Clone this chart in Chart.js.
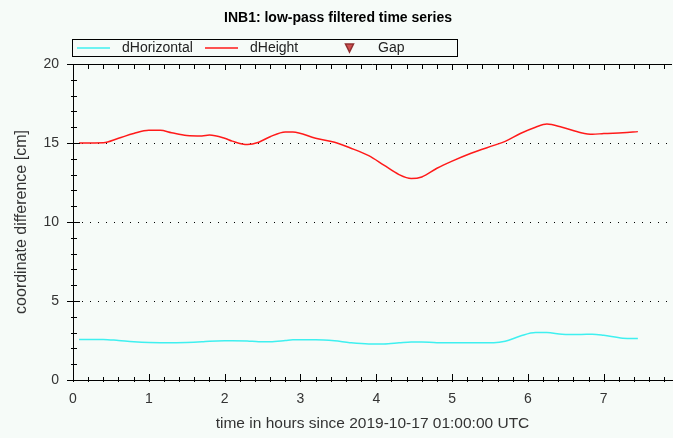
<!DOCTYPE html>
<html>
<head>
<meta charset="utf-8">
<script src="https://cdn.jsdelivr.net/npm/chart.js@4.4.0/dist/chart.umd.min.js"></script>
<style>
html,body{margin:0;padding:0;background:#f6fbf8;}
</style>
</head>
<body>
<canvas id="chart" width="673" height="438"></canvas>
<script>
// time axis (hours since 2019-10-17 01:00:00 UTC)
const hours = [0.08,0.4,0.6,0.8,1.0,1.15,1.3,1.5,1.7,1.8,2.0,2.1,2.3,2.45,2.6,2.8,2.9,3.2,3.45,3.65,3.9,4.1,4.3,4.46,4.6,4.8,5.0,5.25,5.55,5.7,5.9,6.1,6.25,6.45,6.7,6.85,7.0,7.25,7.45];
const dHorizontal = [2.57,2.57,2.5,2.42,2.37,2.36,2.36,2.37,2.42,2.46,2.49,2.49,2.47,2.42,2.42,2.5,2.55,2.55,2.48,2.36,2.28,2.28,2.35,2.41,2.41,2.36,2.36,2.36,2.36,2.45,2.78,3.0,3.0,2.9,2.88,2.9,2.83,2.65,2.63];
const dHeight = [15.0,15.02,15.3,15.6,15.8,15.8,15.65,15.48,15.45,15.5,15.3,15.12,14.9,15.05,15.4,15.7,15.7,15.3,15.05,14.7,14.2,13.6,13.0,12.75,12.85,13.4,13.85,14.35,14.85,15.1,15.6,16.0,16.2,16.0,15.65,15.55,15.6,15.65,15.72];
const gap = [];
const xTickLabels = [0,1,2,3,4,5,6,7];
const yTickLabels = [0,5,10,15,20];
const yGridLines = [5,10,15];
const xMax = 7.9;

const fontFam = "'Liberation Sans', Arial, sans-serif";

function pts(arr){
    return hours.map((h,i)=>({x:h,y:arr[i]}));
}

const framePlugin = {
    id:'frame',
    beforeDraw(chart){
        const c = chart.ctx;
        c.save();
        c.fillStyle = '#f6fbf8';
        c.fillRect(0,0,chart.width,chart.height);
        c.restore();
    },
    afterDraw(chart){
        const c = chart.ctx;
        const a = chart.chartArea;
        const xs = chart.scales.x, ys = chart.scales.y;
        c.save();
        c.strokeStyle = '#000';
        c.lineWidth = 1;
        c.beginPath();
        // top border line
        c.moveTo(a.left, a.top+0.5); c.lineTo(a.right, a.top+0.5);
        // x ticks, bottom and top
        for(let i=0;i*0.2<=xMax+0.001;i++){
            const px = Math.round(xs.getPixelForValue(i*0.2))+0.5;
            const major = i%5==0;
            c.moveTo(px, a.bottom-(major?6:3)); c.lineTo(px, a.bottom+2);
            c.moveTo(px, a.top); c.lineTo(px, a.top+(major?6:5));
        }
        // y ticks
        for(let v=0;v<=20;v++){
            const py = Math.round(ys.getPixelForValue(v))+0.5;
            const major = v%5==0;
            c.moveTo(a.left-(major?6:2), py); c.lineTo(a.left+(major?7:4), py);
        }
        c.stroke();

        // title
        c.fillStyle = '#000';
        c.font = 'bold 14px '+fontFam;
        c.textAlign = 'center';
        c.textBaseline = 'middle';
        c.fillText('INB1: low-pass filtered time series', 338, 18);

        // legend
        c.strokeRect(72.5, 39.5, 385, 17);
        c.font = '14px '+fontFam;
        c.textAlign = 'left';
        chart.data.datasets.forEach((ds,i)=>{
            const x0 = 73 + i*128;
            const y0 = 48;
            if(ds.pointStyle=='triangle'){
                const cx = x0+20.5;
                c.fillStyle = ds.backgroundColor;
                c.strokeStyle = ds.borderColor;
                c.beginPath();
                c.moveTo(cx-4, y0-4);
                c.lineTo(cx+4, y0-4);
                c.lineTo(cx, y0+4);
                c.closePath();
                c.fill();
                c.stroke();
            } else {
                c.strokeStyle = ds.borderColor;
                c.lineWidth = 1.5;
                c.beginPath();
                c.moveTo(x0+4, y0); c.lineTo(x0+37, y0);
                c.stroke();
            }
            c.fillStyle = '#222';
            c.fillText(ds.label, x0+49, y0);
        });
        c.restore();
    }
};

new Chart(document.getElementById('chart').getContext('2d'), {
    type: 'line',
    data: {
        datasets: [{
            label: 'dHorizontal',
            data: pts(dHorizontal),
            borderColor: '#3ff0f0',
            borderWidth: 1.5,
            pointRadius: 0,
            cubicInterpolationMode: 'monotone'
        },{
            label: 'dHeight',
            data: pts(dHeight),
            borderColor: '#ff1a1a',
            borderWidth: 1.5,
            pointRadius: 0,
            cubicInterpolationMode: 'monotone'
        },{
            label: 'Gap',
            data: gap,
            pointStyle: 'triangle',
            backgroundColor: '#d05050',
            borderColor: '#903030',
            showLine: false
        }]
    },
    options: {
        responsive: false,
        animation: false,
        layout: { padding: { top: 64, right: 1, left: 0, bottom: 0 } },
        plugins: {
            legend: { display: false },
            title: { display: false },
            tooltip: { enabled: false }
        },
        scales: {
            x: {
                type: 'linear',
                min: 0,
                max: xMax,
                afterFit(s){ s.height = 58; },
                afterBuildTicks(s){ s.ticks = xTickLabels.map(v=>({value:v})); },
                grid: { display: false, drawTicks: false },
                border: { color: '#000', width: 1 },
                ticks: { padding: 11, color: '#333', font: { family: fontFam, size: 14 } },
                title: {
                    display: true,
                    text: 'time in hours since 2019-10-17 01:00:00 UTC',
                    color: '#333',
                    font: { family: fontFam, size: 15.5 },
                    padding: { top: 0, bottom: 4.7 }
                }
            },
            y: {
                min: 0,
                max: 20,
                afterFit(s){ s.width = 73; },
                afterBuildTicks(s){ s.ticks = yTickLabels.map(v=>({value:v})); },
                grid: {
                    drawTicks: false,
                    color: (ctx)=> (ctx.tick && yGridLines.includes(ctx.tick.value)) ? '#000' : 'rgba(0,0,0,0)',
                    lineWidth: 1
                },
                border: { color: '#000', width: 1, dash: [1,7] },
                ticks: { padding: 14, color: '#333', font: { family: fontFam, size: 14 } },
                title: {
                    display: true,
                    text: 'coordinate difference [cm]',
                    color: '#333',
                    font: { family: fontFam, size: 16 },
                    padding: { top: 12.4, bottom: 0 }
                }
            }
        }
    },
    plugins: [framePlugin]
});
</script>
</body>
</html>
